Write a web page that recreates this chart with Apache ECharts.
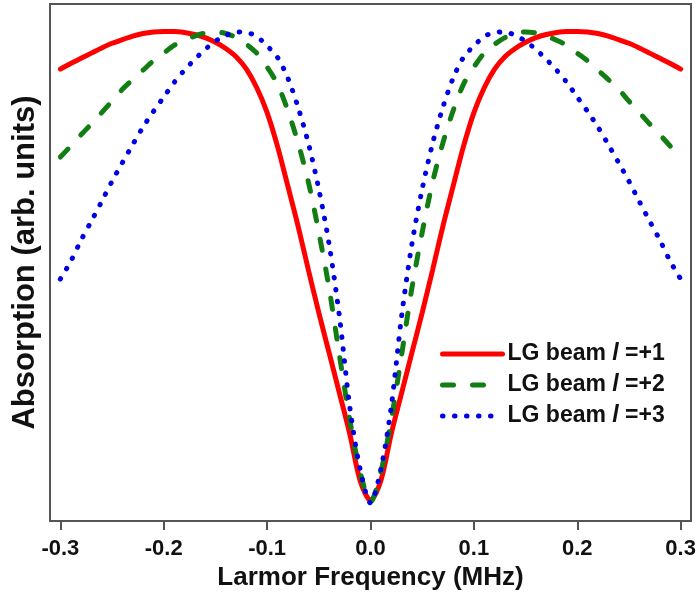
<!DOCTYPE html>
<html>
<head>
<meta charset="utf-8">
<script src="https://cdn.jsdelivr.net/npm/echarts@6/dist/echarts.min.js"></script>
<style>
html,body{margin:0;padding:0;background:#fff;}
#chart{width:699px;height:596px;}
</style>
</head>
<body>
<div id="chart"></div>
<script>
// Larmor frequency (MHz)
var freqs = [-0.30,-0.29,-0.28,-0.27,-0.26,-0.25,-0.24,-0.23,-0.22,-0.21,-0.20,-0.19,-0.18,-0.17,-0.16,-0.15,-0.14,-0.13,-0.12,-0.11,-0.10,-0.09,-0.08,-0.07,-0.06,-0.05,-0.04,-0.03,-0.02,-0.01,
  0.00,0.01,0.02,0.03,0.04,0.05,0.06,0.07,0.08,0.09,0.10,0.11,0.12,0.13,0.14,0.15,0.16,0.17,0.18,0.19,0.20,0.21,0.22,0.23,0.24,0.25,0.26,0.27,0.28,0.29,0.30];

var seriesNames = ['LG beam l =+1', 'LG beam l =+2', 'LG beam l =+3'];

var absorptionL1 = [0.874,0.885,0.895,0.905,0.915,0.924,0.931,0.938,0.943,0.946,0.947,0.947,0.945,0.941,0.935,0.926,0.914,0.898,0.874,0.838,0.790,0.725,0.648,0.570,0.485,0.403,0.325,0.247,0.168,0.078,
  0.040,0.078,0.168,0.247,0.325,0.403,0.485,0.570,0.648,0.725,0.790,0.838,0.874,0.898,0.914,0.926,0.935,0.941,0.945,0.947,0.947,0.946,0.943,0.938,0.931,0.924,0.915,0.905,0.895,0.885,0.874];

var absorptionL2 = [0.704,0.725,0.747,0.768,0.790,0.812,0.835,0.854,0.872,0.890,0.905,0.920,0.930,0.938,0.944,0.946,0.943,0.935,0.922,0.905,0.878,0.845,0.794,0.731,0.655,0.558,0.450,0.320,0.195,0.095,
  0.037,0.095,0.195,0.320,0.450,0.558,0.655,0.731,0.794,0.845,0.878,0.905,0.922,0.935,0.943,0.946,0.944,0.938,0.930,0.920,0.905,0.890,0.872,0.854,0.835,0.812,0.790,0.768,0.747,0.725,0.704];

var absorptionL3 = [0.468,0.502,0.543,0.580,0.618,0.657,0.693,0.728,0.762,0.792,0.820,0.848,0.872,0.893,0.912,0.928,0.939,0.946,0.945,0.937,0.919,0.897,0.857,0.800,0.730,0.642,0.535,0.395,0.220,0.100,
  0.035,0.100,0.220,0.395,0.535,0.642,0.730,0.800,0.857,0.897,0.919,0.937,0.945,0.946,0.939,0.928,0.912,0.893,0.872,0.848,0.820,0.792,0.762,0.728,0.693,0.657,0.618,0.580,0.543,0.502,0.468];

var tickValues = [-0.3,-0.2,-0.1,0.0,0.1,0.2,0.3];
var tickLabels = ['-0.3','-0.2','-0.1','0.0','0.1','0.2','0.3'];

function pairs(xs, ys){ return xs.map(function(x,i){ return [x, ys[i]]; }); }

var FONT = '"Liberation Sans", Arial, Helvetica, sans-serif';
var chart = echarts.init(document.getElementById('chart'), null, {renderer:'canvas'});

var option = {
  backgroundColor: '#ffffff',
  animation: false,
  grid: {
    left: 50, right: 8, top: 4, bottom: 75,
    show: true, borderColor: '#555555', borderWidth: 2, backgroundColor: 'transparent'
  },
  legend: {
    orient: 'vertical',
    left: 435, top: 337,
    itemWidth: 60, itemHeight: 14, itemGap: 7,
    data: seriesNames,
    lineStyle: {width: 5},
    itemStyle: {opacity: 0},
    formatter: function(name){
      var parts = name.split(' l ');
      return '{n|' + parts[0] + ' }{i|l}{n| ' + parts[1] + '}';
    },
    textStyle: {
      fontFamily: FONT, fontWeight: 'bold', fontSize: 23, color: '#111', lineHeight: 24,
      rich: {
        n: {fontFamily: FONT, fontWeight: 'bold', fontSize: 23, color: '#111'},
        i: {fontFamily: FONT, fontWeight: 'bold', fontStyle: 'italic', fontSize: 23, color: '#111'}
      }
    }
  },
  xAxis: {
    type: 'value',
    min: -0.31, max: 0.31,
    name: 'Larmor Frequency (MHz)',
    nameLocation: 'middle',
    nameGap: 42,
    nameTextStyle: {fontFamily: FONT, fontWeight: 'bold', fontSize: 26, color: '#111'},
    axisLine: {show: true, onZero: false, lineStyle: {color: '#555555', width: 2}},
    axisTick: {show: true, inside: false, length: 9, customValues: tickValues, lineStyle: {color: '#555555', width: 2}},
    axisLabel: {
      show: true, margin: 17, customValues: tickValues,
      fontFamily: FONT, fontWeight: 'bold', fontSize: 22, color: '#111',
      formatter: function(v){
        var idx = tickValues.findIndex(function(t){ return Math.abs(t - v) < 1e-6; });
        return idx >= 0 ? tickLabels[idx] : '';
      }
    },
    splitLine: {show: false}
  },
  yAxis: {
    type: 'value',
    min: 0, max: 1,
    name: 'Absorption (arb. units)',
    nameLocation: 'middle',
    nameRotate: 90,
    nameGap: 9,
    nameTextStyle: {fontFamily: FONT, fontWeight: 'bold', fontSize: 31, color: '#111'},
    axisLine: {show: true, onZero: false, lineStyle: {color: '#555555', width: 2}},
    axisTick: {show: false},
    axisLabel: {show: false},
    splitLine: {show: false}
  },
  series: [
    {
      name: seriesNames[0], type: 'line', data: pairs(freqs, absorptionL1),
      showSymbol: false, symbol: 'none', smooth: 0.3,
      lineStyle: {color: '#ff0000', width: 5, type: 'solid', cap: 'round'},
      itemStyle: {color: '#ff0000'}
    },
    {
      name: seriesNames[1], type: 'line', data: pairs(freqs, absorptionL2),
      showSymbol: false, symbol: 'none', smooth: 0.3,
      lineStyle: {color: '#127d12', width: 5, type: [11, 19], cap: 'round'},
      itemStyle: {color: '#127d12'}
    },
    {
      name: seriesNames[2], type: 'line', data: pairs(freqs, absorptionL3),
      showSymbol: false, symbol: 'none', smooth: 0.3,
      lineStyle: {color: '#0000e6', width: 5, type: [0.5, 11.5], cap: 'round'},
      itemStyle: {color: '#0000e6'}
    }
  ]
};
chart.setOption(option);
</script>
</body>
</html>
